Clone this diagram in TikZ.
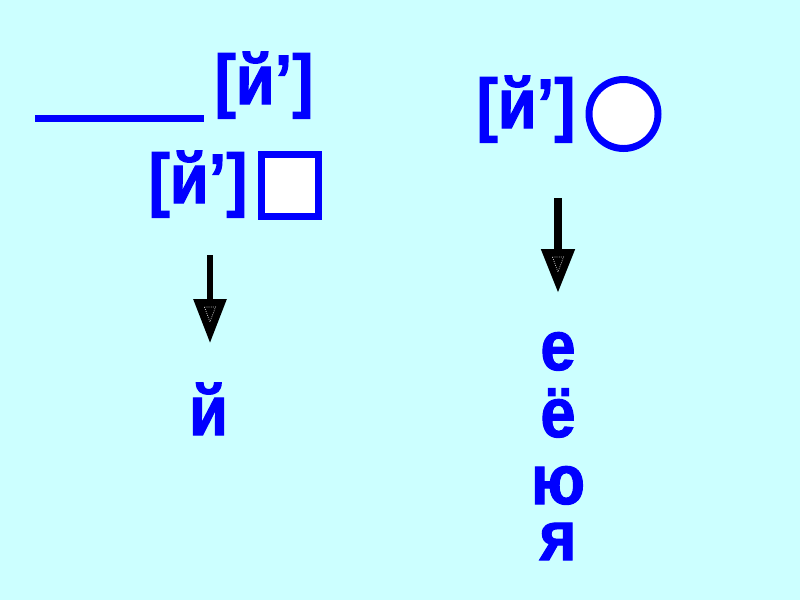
\documentclass[tikz,border=0pt]{standalone}
\usepackage{fontspec}
\setmainfont{Liberation Sans}
\newfontfamily\slidefont{Liberation Sans Bold}[FakeStretch=0.9, FakeBold=1.5]
\usetikzlibrary{arrows.meta,calc}
\definecolor{slidebg}{RGB}{204,255,255}
\definecolor{slideblue}{RGB}{0,0,255}
\newcommand{\drawdownarrow}[5]{
    % shaft and head, then the small dotted mark inside the head
    \coordinate (#1top) at (#2,#3);
    \coordinate (#1tip) at (#2,#4);
    \draw[line width=#5, -{Triangle[length=44*0.709pt, width=32*0.709pt]}] (#1top) -- (#1tip);
    \draw[white, densely dotted, line width=0.5pt] ($(#1tip)+(-5.5,-36)$) -- ++(11,0) -- ($(#1tip)+(0,-21)$) -- cycle;
}

\begin{document}
\begin{tikzpicture}[x=0.025cm,y=-0.025cm,
    sound/.style={font=\slidefont\fontsize{50}{60}\selectfont, text=slideblue, inner sep=0pt, anchor=base},
    letter/.style={sound, text height=0.72em, text depth=0pt},
    blueline/.style={draw=slideblue, line width=7*0.709pt}]

% -------------------------
% Fundo
% -------------------------
\fill[slidebg] (0,0) rectangle (800,600);
\useasboundingbox (0,0) rectangle (800,600);

% -------------------------
% Esquerda
% -------------------------
\coordinate (gapL) at (35,118.5);
\coordinate (gapR) at (204,118.5);
\draw[blueline] (gapL) -- (gapR);
\node[sound] (jtop) at (264,104) {[й’]};
\node[sound] (jleft) at (198,203) {[й’]};
\draw[blueline, fill=white] (261.5,154.5) rectangle (318.5,216.5);
\drawdownarrow{al}{210}{255}{343}{6*0.709pt}
\node[letter] (jshort) at (208.5,435) {й};

% -------------------------
% Direita
% -------------------------
\node[sound] (jright) at (526,128) {[й’]};
\draw[blueline, fill=white] (623.5,114) circle (34.5);
\drawdownarrow{ar}{558}{198}{293}{8*0.709pt}
\foreach \ch/\yy [count=\k] in {е/370, ё/437, ю/504, я/560} {
    \node[letter] (v\k) at (558,\yy) {\ch};
}

\end{tikzpicture}
\end{document}
